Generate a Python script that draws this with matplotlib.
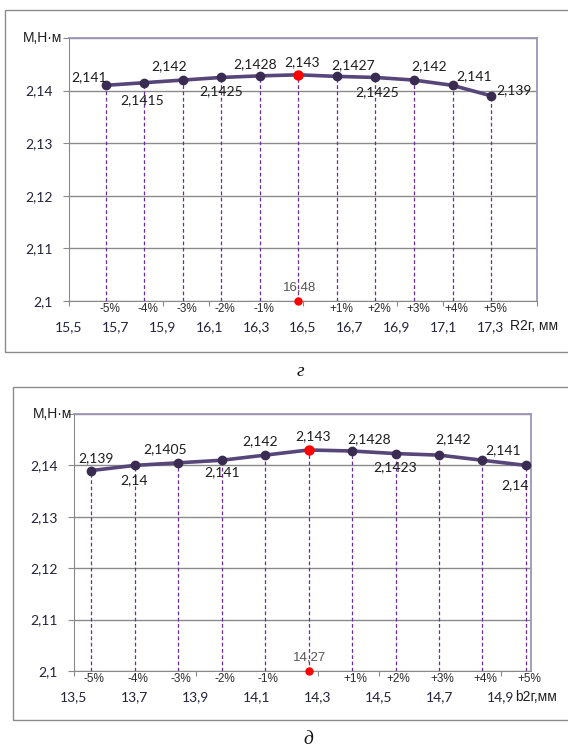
import matplotlib
matplotlib.use("Agg")
import matplotlib.pyplot as plt
from matplotlib.patches import Rectangle

# ---------------- data ----------------
pct_steps = [-5, -4, -3, -2, -1, 0, 1, 2, 3, 4, 5]
pct_labels = ["-5%", "-4%", "-3%", "-2%", "-1%", "", "+1%", "+2%", "+3%", "+4%", "+5%"]

r2_nominal = 16.48
r2_torque = [2.141, 2.1415, 2.142, 2.1425, 2.1428, 2.143, 2.1427, 2.1425, 2.142, 2.141, 2.139]
r2_xlim = (15.5, 17.5)
r2_ticks = [15.5, 15.7, 15.9, 16.1, 16.3, 16.5, 16.7, 16.9, 17.1, 17.3, 17.5]
r2_title = "R2г, мм"

b2_nominal = 14.27
b2_torque = [2.139, 2.14, 2.1405, 2.141, 2.142, 2.143, 2.1428, 2.1423, 2.142, 2.141, 2.14]
b2_xlim = (13.5, 15.0)
b2_ticks = [13.5, 13.7, 13.9, 14.1, 14.3, 14.5, 14.7, 14.9]
b2_title = "b2г,мм"

y_ticks = [2.10, 2.11, 2.12, 2.13, 2.14]
y_top = 2.15
y_title = "М,Н·м"

# ---------------- layout ----------------
W, H, DPI = 568, 749, 100
CAL = "Lato"
ARI = "Liberation Sans"
LINE_C = "#56467a"
MARK_C = "#3a2b52"
DROP_C = "#6a2d9e"
GRID_C = "#8a8a8a"
BORDER_C = "#9d95b6"
TXT_C = "#23233a"


def num(v):
    return f"{v:g}".replace(".", ",")


def px_rect(l, t, r, b):
    return [l / W, 1 - b / H, (r - l) / W, (b - t) / H]


def panel(fig, axes_px, frame_px, nominal, torque, xlim, ticks, xtitle,
          xtitle_px, label_offsets, pct_dx, caption, caption_px, ylab_pad):
    fl, ft, fb = frame_px
    fig.patches.append(Rectangle((fl / W, 1 - fb / H), (W + 40 - fl) / W,
                                 (fb - ft) / H, transform=fig.transFigure,
                                 fill=False, ec="#8c8c8c", lw=1.0))
    ax = fig.add_axes(px_rect(*axes_px))
    ax.set_xlim(*xlim)
    ax.set_ylim(y_ticks[0], y_top)

    xs = [nominal * (1 + p / 100) for p in pct_steps]

    # grid and frame of the plotting area
    ax.set_axisbelow(True)
    ax.set_yticks(y_ticks + [y_top])
    ax.set_yticklabels([num(v) for v in y_ticks] + [""],
                       fontfamily=CAL, fontsize=10, color=TXT_C)
    ax.yaxis.grid(True, color=GRID_C, lw=1.0)
    for s in ("left", "bottom"):
        ax.spines[s].set_color(GRID_C)
    for s in ("top", "right"):
        ax.spines[s].set_color(BORDER_C)
        ax.spines[s].set_linewidth(1.3)
    ax.tick_params(axis="y", length=4.5, color=GRID_C, pad=7)
    ax.annotate(y_title, xy=(0, y_top), xycoords=("axes fraction", "data"),
                xytext=(-ylab_pad, 0), textcoords="offset pixels",
                ha="right", va="center", fontfamily=ARI, fontsize=10,
                color="#1e1e1e", annotation_clip=False)

    ax.set_xticks(ticks)
    ax.set_xticklabels([num(t) if t < xlim[1] - 1e-9 else "" for t in ticks],
                       fontfamily=CAL, fontsize=10, color=TXT_C)
    ax.tick_params(axis="x", length=3.5, color=GRID_C, pad=11)

    # drop lines from every point to the axis
    ax.vlines(xs, y_ticks[0], torque, colors=DROP_C, linestyles=(0, (3, 2)),
              lw=0.9, zorder=3)

    # torque curve
    ax.plot(xs, torque, "-", color=LINE_C, lw=2.6, solid_joinstyle="round",
            solid_capstyle="round", zorder=4)
    mid = pct_steps.index(0)
    others = [i for i in range(len(xs)) if i != mid]
    ax.plot([xs[i] for i in others], [torque[i] for i in others], "o",
            color=MARK_C, ms=6, zorder=5, ls="none")
    ax.plot(xs[mid], torque[mid], "o", color="#ff0000", ms=6.5, zorder=6)

    for x, v, (dx, dy) in zip(xs, torque, label_offsets):
        ax.annotate(num(v), xy=(x, v), xytext=(dx, dy),
                    textcoords="offset pixels", ha="center", va="center",
                    fontfamily=CAL, fontsize=10, color="#1c1c1c", zorder=7)

    # percentage marks under the axis
    for x, lab in zip(xs, pct_labels):
        if lab:
            ax.annotate(lab, xy=(x, y_ticks[0]), xytext=(pct_dx, -8),
                        textcoords="offset pixels", ha="center", va="center",
                        fontfamily=ARI, fontsize=8.5, color="#2a2a2a",
                        bbox=dict(boxstyle="square,pad=0.05", fc="white",
                                  ec="none"),
                        annotation_clip=False, zorder=8)

    # nominal size on the axis
    ax.plot(nominal, y_ticks[0], "o", color="#ff0000", ms=5,
            clip_on=False, zorder=9)
    ax.annotate(num(nominal), xy=(nominal, y_ticks[0]), xytext=(1, 13),
                textcoords="offset pixels", ha="center", va="center",
                fontfamily=ARI, fontsize=9.5, color="#555555",
                annotation_clip=False, zorder=9)

    fig.text(xtitle_px[0] / W, 1 - xtitle_px[1] / H, xtitle, ha="left",
             va="center", fontfamily=ARI, fontsize=10, color="#1e1e1e")
    fig.text(caption_px[0] / W, 1 - caption_px[1] / H, caption, ha="center",
             va="center", fontfamily="Liberation Serif", fontstyle="italic",
             fontsize=14, color="#111111")
    return ax


fig = plt.figure(figsize=(W / DPI, H / DPI), dpi=DPI, facecolor="white")

panel(fig, (69, 38, 537, 301), (5, 10, 352), r2_nominal, r2_torque,
      r2_xlim, r2_ticks, r2_title, (510, 326),
      [(-16, 8), (-2, -17), (-14, 14), (0, -14), (-5, 12), (4, 13),
       (16, 11), (2, -15), (15, 14), (22, 9), (23, 6)],
      4, "г", (300, 372), 7)

panel(fig, (74, 414, 531, 671), (13, 387, 720), b2_nominal, b2_torque,
      b2_xlim, b2_ticks, b2_title, (515, 697),
      [(5, 12), (-1, -15), (-13, 14), (0, -12), (-5, 14), (4, 14),
       (17, 12), (0, -14), (14, 16), (21, 10), (-11, -20)],
      3, "д", (308, 740), 2)

fig.savefig("out.png", dpi=DPI, facecolor="white")
